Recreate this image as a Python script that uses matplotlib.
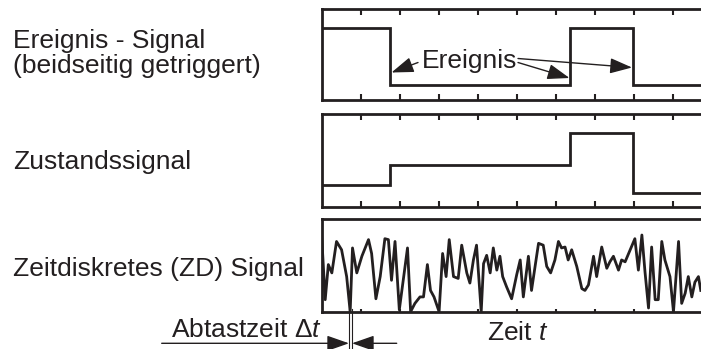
import matplotlib
matplotlib.use('Agg')
import matplotlib.pyplot as plt
import numpy as np

plt.rcParams['font.family'] = ['Liberation Sans', 'DejaVu Sans']
plt.rcParams['mathtext.fontset'] = 'custom'
plt.rcParams['mathtext.rm'] = 'Liberation Sans'
plt.rcParams['mathtext.it'] = 'Liberation Sans:italic'

# ---------------- data ----------------
labels = ["Ereignis - Signal\n(beidseitig getriggert)", "Zustandssignal",
          "Zeitdiskretes (ZD) Signal"]

# event signal (time in tick units, level 1 = high, 0 = low)
event_edges = [0.0, 1.75, 6.37, 7.97, 9.8]
event_levels = [1, 0, 1, 0]

# state signal (fraction of panel height)
state_edges = [0.0, 1.75, 6.37, 7.97, 9.8]
state_levels = [0.24, 0.45, 0.80, 0.15]

# time discrete signal (sample times in tick units, values 0..100)
zd_t = [0.00, 0.09, 0.17, 0.26, 0.38, 0.51, 0.64, 0.73, 0.79, 0.90,
        1.03, 1.20, 1.28, 1.39, 1.50, 1.62, 1.71, 1.79, 1.88, 1.99,
        2.20, 2.28, 2.39, 2.52, 2.61, 2.71, 2.79, 2.88, 3.01, 3.10,
        3.19, 3.27, 3.38, 3.50, 3.59, 3.72, 3.80, 3.89, 3.97, 4.09,
        4.15, 4.23, 4.32, 4.40, 4.49, 4.57, 4.64, 4.74, 4.87, 5.00,
        5.09, 5.17, 5.30, 5.38, 5.51, 5.56, 5.68, 5.77, 5.87, 5.98,
        6.07, 6.15, 6.24, 6.32, 6.41, 6.54, 6.67, 6.75, 6.84, 6.97,
        7.05, 7.18, 7.31, 7.39, 7.48, 7.61, 7.69, 7.78, 7.91, 8.03,
        8.12, 8.21, 8.29, 8.38, 8.46, 8.55, 8.63, 8.72, 8.80, 8.93,
        9.02, 9.15, 9.23, 9.32, 9.40, 9.49, 9.57, 9.66, 9.72]
zd_v = [81, 13, 51, 42, 76, 67, 38, 0, 69, 42,
        60, 78, 63, 14, 38, 79, 78, 34, 76, 2,
        69, 0, 9, 16, 16, 51, 23, 16, 0, 63,
        38, 78, 38, 36, 72, 42, 31, 56, 72, 0,
        52, 61, 42, 69, 45, 60, 38, 27, 14, 40,
        56, 16, 60, 23, 60, 74, 72, 49, 42, 56,
        76, 69, 70, 56, 67, 49, 25, 23, 29, 60,
        38, 70, 47, 54, 60, 45, 56, 54, 67, 79,
        45, 83, 43, 4, 70, 13, 13, 76, 56, 38,
        0, 76, 9, 20, 38, 16, 32, 38, 23]

tick_pos = list(range(1, 10))

# ---------------- figure ----------------
W, H = 701, 349
fig = plt.figure(figsize=(W / 100, H / 100), dpi=100)
INK = '#231f20'
LEFT = 321.7
XMAX = (W - LEFT) / 39.0


def panel(top, bottom):
    ax = fig.add_axes([LEFT / W, 1 - bottom / H, (W - LEFT) / W, (bottom - top) / H])
    ax.set_xlim(0, XMAX)
    ax.spines['right'].set_visible(False)
    for s in ('left', 'top', 'bottom'):
        ax.spines[s].set_linewidth(2.0)
        ax.spines[s].set_color(INK)
    ax.set_xticks(tick_pos)
    ax.set_yticks([])
    ax.tick_params(axis='x', direction='in', length=4.3, width=1.5, color=INK,
                   labelbottom=False, labeltop=False)
    ax.patch.set_alpha(0)
    return ax

ax1 = panel(9.3, 100)
ax1.set_ylim(-0.264, 1.336)
ax1.tick_params(axis='x', top=True, bottom=True)
ax1.stairs(event_levels, event_edges, baseline=None, color=INK, lw=2.0)

ax2 = panel(114, 207.3)
ax2.set_ylim(0, 1)
ax2.tick_params(axis='x', top=True, bottom=True)
ax2.stairs(state_levels, state_edges, baseline=None, color=INK, lw=2.0)

ax3 = panel(219.3, 311.7)
ax3.set_ylim(0, 100)
ax3.tick_params(axis='x', top=False, bottom=True, length=2.5)
ax3.plot(zd_t, zd_v, color=INK, lw=2.0)

# ---------------- overlay (pixel coordinates) ----------------
ov = fig.add_axes([0, 0, 1, 1])
ov.set_xlim(0, W)
ov.set_ylim(H, 0)
ov.axis('off')
ov.patch.set_alpha(0)

FS = 19
ov.text(12.7, 48.3, "Ereignis - Signal", fontsize=FS, color=INK, va='baseline', ha='left')
ov.text(12.7, 73.3, "(beidseitig getriggert)", fontsize=FS, color=INK, va='baseline', ha='left')
ov.text(12.7, 169.3, labels[1], fontsize=FS, color=INK, va='baseline', ha='left')
ov.text(12.7, 276, labels[2], fontsize=FS, color=INK, va='baseline', ha='left')

ov.text(422.3, 68.3, "Ereignis", fontsize=FS, color=INK, va='baseline', ha='left')
ap = dict(arrowstyle='-|>,head_length=0.8,head_width=0.28', mutation_scale=17,
          lw=1.0, color=INK, shrinkA=0, shrinkB=0)
ov.annotate('', xy=(391.5, 72.5), xytext=(418, 62.5), arrowprops=ap)
ov.annotate('', xy=(569.5, 78), xytext=(518, 62.5), arrowprops=ap)
ov.annotate('', xy=(632, 67.5), xytext=(518, 58.5), arrowprops=ap)

ov.text(487.3, 340, "Zeit $t$", fontsize=FS, color=INK, va='baseline', ha='left')
ov.text(170.7, 337.3, "Abtastzeit $\\Delta t$", fontsize=FS, color=INK, va='baseline', ha='left')

ap2 = dict(arrowstyle='-|>,head_length=0.8,head_width=0.28', mutation_scale=17,
           lw=1.0, color=INK, shrinkA=0, shrinkB=0)
ov.annotate('', xy=(349, 343.3), xytext=(161.7, 343.3), arrowprops=ap2)
ov.annotate('', xy=(352, 343.3), xytext=(396.7, 343.3), arrowprops=ap2)
ov.plot([349, 349], [309, 349], color=INK, lw=0.8)
ov.plot([352, 352], [309, 349], color=INK, lw=0.8)

fig.savefig('out.png', dpi=100)
